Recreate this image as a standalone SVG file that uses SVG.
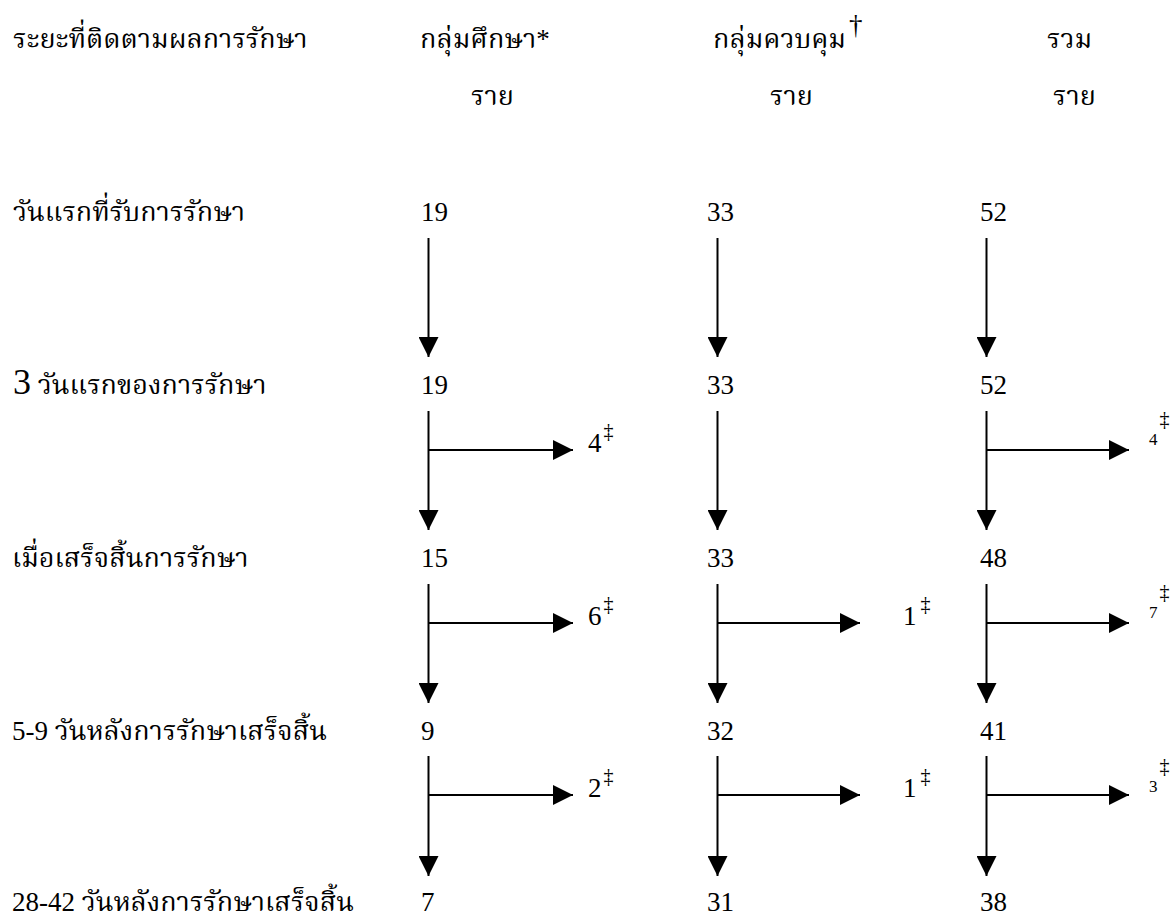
<svg xmlns="http://www.w3.org/2000/svg" width="1175" height="917" viewBox="0 0 1175 917">
  <style>
    text { font-family: "Liberation Serif", "Norasi", "Noto Serif Thai", "Noto Sans Thai Looped", "Noto Sans Thai", serif; fill: #000; }
    .th { font-size: 27px; }
    .num { font-size: 27px; }
    .sm { font-size: 17px; }
    .dag { font-size: 20px; }
    .ln { stroke: #000; stroke-width: 2; fill: none; }
  </style>
  <defs>
    <marker id="ah" viewBox="0 0 20 20" refX="20" refY="10" markerWidth="20" markerHeight="20" markerUnits="userSpaceOnUse" orient="auto">
      <path d="M0,0 L20,10 L0,20 Z" fill="#000"/>
    </marker>
  </defs>
  <rect width="1175" height="917" fill="#fff"/>

  <!-- column headings -->
  <g id="headings">
    <text class="th" x="13" y="48">ระยะที่ติดตามผลการรักษา</text>
    <text class="th" x="420" y="48">กลุ่มศึกษา*</text>
    <text class="th" x="713" y="48">กลุ่มควบคุม<tspan class="num" dx="3" dy="-14">†</tspan></text>
    <text class="th" x="1047" y="48">รวม</text>
    <text class="th" x="471" y="105">ราย</text>
    <text class="th" x="770" y="105">ราย</text>
    <text class="th" x="1053" y="105">ราย</text>
  </g>

  <!-- follow-up stage labels -->
  <g id="stages">
    <text class="th" x="13" y="221">วันแรกที่รับการรักษา</text>
    <text class="th" x="13" y="394"><tspan font-size="36">3</tspan> วันแรกของการรักษา</text>
    <text class="th" x="12" y="567">เมื่อเสร็จสิ้นการรักษา</text>
    <text class="th" x="12" y="740">5-9 วันหลังการรักษาเสร็จสิ้น</text>
    <text class="th" x="12" y="911">28-42 วันหลังการรักษาเสร็จสิ้น</text>
  </g>

  <!-- study group -->
  <g id="study">
    <text class="num" x="421" y="221">19</text>
    <text class="num" x="421" y="394">19</text>
    <text class="num" x="421" y="567">15</text>
    <text class="num" x="421" y="740">9</text>
    <text class="num" x="421" y="911">7</text>
    <text class="num" x="588" y="452">4<tspan class="dag" dx="2" dy="-14">‡</tspan></text>
    <text class="num" x="588" y="625">6<tspan class="dag" dx="2" dy="-14">‡</tspan></text>
    <text class="num" x="588" y="797">2<tspan class="dag" dx="2" dy="-14">‡</tspan></text>
  </g>

  <!-- control group -->
  <g id="control">
    <text class="num" x="707" y="221">33</text>
    <text class="num" x="707" y="394">33</text>
    <text class="num" x="707" y="567">33</text>
    <text class="num" x="707" y="740">32</text>
    <text class="num" x="707" y="911">31</text>
    <text class="num" x="903" y="625">1<tspan class="dag" dx="4" dy="-14">‡</tspan></text>
    <text class="num" x="903" y="797">1<tspan class="dag" dx="4" dy="-14">‡</tspan></text>
  </g>

  <!-- total -->
  <g id="total">
    <text class="num" x="980" y="221">52</text>
    <text class="num" x="980" y="394">52</text>
    <text class="num" x="980" y="567">48</text>
    <text class="num" x="980" y="740">41</text>
    <text class="num" x="980" y="911">38</text>
    <text class="sm" x="1149" y="445">4<tspan class="dag" dx="2" dy="-19">‡</tspan></text>
    <text class="sm" x="1149" y="618">7<tspan class="dag" dx="2" dy="-19">‡</tspan></text>
    <text class="sm" x="1149" y="792">3<tspan class="dag" dx="2" dy="-19">‡</tspan></text>
  </g>

  <!-- connectors -->
  <g id="connectors" class="ln" marker-end="url(#ah)">
    <!-- study group -->
    <path d="M428.5,238 V357"/>
    <path d="M428.5,411 V530"/>
    <path d="M428.5,584 V703"/>
    <path d="M428.5,756 V876"/>
    <path d="M428.5,450 H573"/>
    <path d="M428.5,623 H573"/>
    <path d="M428.5,795 H573"/>
    <!-- control group -->
    <path d="M717.5,238 V357"/>
    <path d="M717.5,411 V530"/>
    <path d="M717.5,584 V703"/>
    <path d="M717.5,756 V876"/>
    <path d="M717.5,623 H860"/>
    <path d="M717.5,795 H860"/>
    <!-- total -->
    <path d="M986.5,238 V357"/>
    <path d="M986.5,411 V530"/>
    <path d="M986.5,584 V703"/>
    <path d="M986.5,756 V876"/>
    <path d="M986.5,450 H1129"/>
    <path d="M986.5,623 H1129"/>
    <path d="M986.5,795 H1129"/>
  </g>
</svg>
